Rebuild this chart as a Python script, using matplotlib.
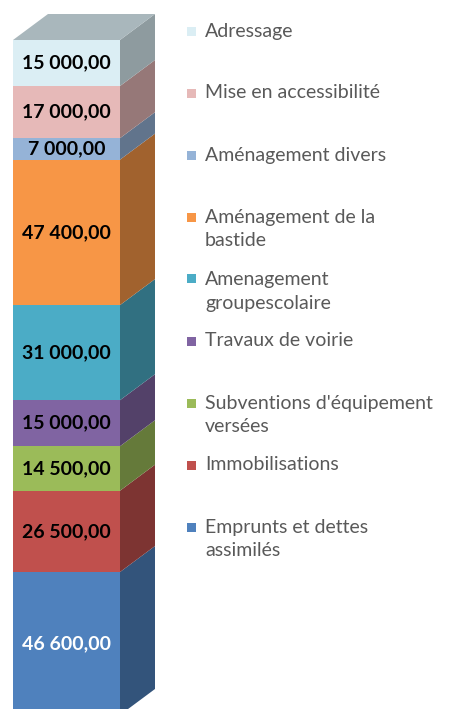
import matplotlib
matplotlib.use("Agg")
import matplotlib.pyplot as plt
from matplotlib.patches import Polygon, Rectangle
import numpy as np

# ---- data (bottom to top) ----
categories = ["Emprunts et dettes\nassimilés", "Immobilisations",
              "Subventions d'équipement\nversées", "Travaux de voirie",
              "Amenagement\ngroupescolaire", "Aménagement de la\nbastide",
              "Aménagement divers", "Mise en accessibilité", "Adressage"]
values = [46600, 26500, 14500, 15000, 31000, 47400, 7000, 17000, 15000]
colors = ["#4f81bd", "#c0504d", "#9bbb59", "#8064a2", "#4bacc6",
          "#f79646", "#95b3d7", "#e6b9b8", "#dbeef4"]
label_colors = ["white"] + ["black"] * 8

W, H = 454, 709
fig = plt.figure(figsize=(W / 100, H / 100), dpi=100)
ax = fig.add_axes([0, 0, 1, 1])
total = sum(values)
px_per_unit = 675 / total
ax.set_xlim(0, W)
ax.set_ylim((715 - H) / px_per_unit, total + 40 / px_per_unit)
ax.axis("off")

D = 26 / px_per_unit   # depth rise in value units
x0, x1, x2 = 13, 120, 155

def shade(c, f):
    r, g, b = matplotlib.colors.to_rgb(c)
    return (r * f, g * f, b * f)

def fmt(v):
    return f"{v:,.2f}".replace(",", " ").replace(".", ",")

font = ["Lato", "DejaVu Sans"]
bottoms = np.concatenate([[0], np.cumsum(values)[:-1]])
ax.bar((x0 + x1) / 2, values, bottom=bottoms, width=x1 - x0, color=colors,
       linewidth=0)
for v, b, c, lc in zip(values, bottoms, colors, label_colors):
    ax.add_patch(Polygon([(x1, b), (x2, b + D), (x2, b + v + D), (x1, b + v)],
                         closed=True, facecolor=shade(c, 0.65), linewidth=0))
    ax.text((x0 + x1) / 2, b + v / 2, fmt(v), ha="center", va="center",
            fontsize=14, fontweight="bold", color=lc, family=font)
ax.add_patch(Polygon([(x0, total), (x1, total), (x2, total + D), (x0 + (x2 - x1), total + D)],
                     closed=True, facecolor=shade(colors[-1], 0.77), linewidth=0))

# ---- legend (top to bottom) ----
first_y = 31
step = 62
for i, (cat, c) in enumerate(zip(categories[::-1], colors[::-1])):
    y = first_y + i * step
    fig.patches.append(Rectangle((187 / W, 1 - (y + 4.5) / H), 9 / W, 9 / H,
                                 transform=fig.transFigure, facecolor=c,
                                 linewidth=0))
    for j, ln in enumerate(cat.split("\n")):
        fig.text(205 / W, 1 - (y + j * 24) / H, ln, ha="left", va="center",
                 fontsize=14, color="#595959", family=font)

fig.savefig("out.png", dpi=100)
